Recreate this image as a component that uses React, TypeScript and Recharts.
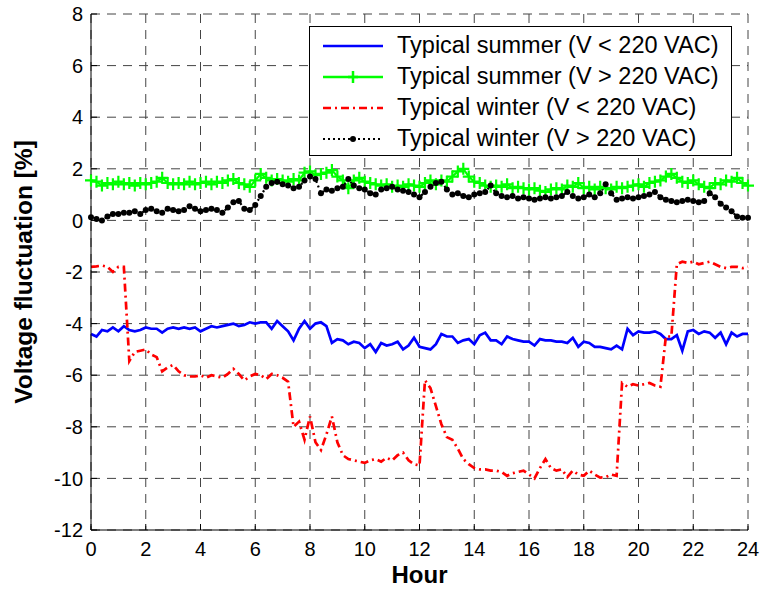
import { LineChart, Line, XAxis, YAxis, CartesianGrid, Legend } from 'recharts';

const FONT = '"Liberation Sans", Arial, Helvetica, sans-serif';

// hours of the day, one reading every 12 minutes
const hours = Array.from({ length: 121 }, (_, i) => i / 5);

const xTicks = [0, 2, 4, 6, 8, 10, 12, 14, 16, 18, 20, 22, 24];
const yTicks = [-12, -10, -8, -6, -4, -2, 0, 2, 4, 6, 8];

const seriesNames = [
  'Typical summer (V < 220 VAC)',
  'Typical summer (V > 220 VAC)',
  'Typical winter (V < 220 VAC)',
  'Typical winter (V > 220 VAC)',
];

const summerLow = [
  -4.4, -4.5, -4.25, -4.3, -4.15, -4.3, -4.1, -4.25, -4.3, -4.25,
  -4.15, -4.2, -4.2, -4.35, -4.2, -4.15, -4.2, -4.15, -4.2, -4.15,
  -4.3, -4.2, -4.1, -4.15, -4.1, -4.05, -4.0, -4.1, -4.05, -3.95,
  -4.0, -3.95, -3.95, -4.2, -3.9, -4.1, -4.3, -4.65, -4.2, -3.9,
  -4.2, -4.0, -3.95, -4.1, -4.75, -4.6, -4.65, -4.8, -4.7, -4.75,
  -4.95, -4.8, -5.1, -4.75, -4.85, -4.8, -4.7, -5.0, -4.85, -4.55,
  -4.9, -4.95, -5.0, -4.8, -4.4, -4.5, -4.5, -4.75, -4.65, -4.6,
  -4.8, -4.45, -4.35, -4.65, -4.65, -4.8, -4.5, -4.6, -4.65, -4.7,
  -4.7, -4.85, -4.6, -4.65, -4.65, -4.7, -4.7, -4.75, -4.55, -4.9,
  -4.7, -4.75, -4.9, -4.9, -4.95, -5.0, -4.85, -5.0, -4.2, -4.45,
  -4.3, -4.35, -4.35, -4.3, -4.4, -4.6, -4.6, -4.45, -5.05, -4.3,
  -4.25, -4.4, -4.3, -4.35, -4.55, -4.35, -4.8, -4.35, -4.5, -4.4,
  -4.4,
];

const summerHigh = [
  1.55, 1.5, 1.35, 1.45, 1.4, 1.5, 1.4, 1.45, 1.35, 1.45,
  1.4, 1.45, 1.5, 1.65, 1.45, 1.4, 1.45, 1.4, 1.5, 1.4,
  1.45, 1.5, 1.4, 1.5, 1.45, 1.55, 1.6, 1.45, 1.4, 1.3,
  1.55, 1.8, 1.65, 1.55, 1.6, 1.55, 1.5, 1.6, 1.55, 1.85,
  1.9, 1.75, 1.8, 1.85, 1.95, 1.7, 1.55, 1.25, 1.55, 1.65,
  1.5, 1.45, 1.4, 1.35, 1.4, 1.3, 1.35, 1.3, 1.4, 1.35,
  1.3, 1.45, 1.55, 1.4, 1.55, 1.5, 1.7, 1.9, 2.0, 1.7,
  1.5, 1.45, 1.35, 1.3, 1.35, 1.3, 1.4, 1.25, 1.3, 1.25,
  1.2, 1.25, 1.15, 1.1, 1.2, 1.25, 1.2, 1.35, 1.3, 1.45,
  1.25, 1.3, 1.2, 1.3, 1.25, 1.2, 1.3, 1.25, 1.3, 1.35,
  1.4, 1.3, 1.45, 1.5, 1.55, 1.7, 1.8, 1.65, 1.5, 1.45,
  1.55, 1.4, 1.3, 1.25, 1.45, 1.4, 1.55, 1.5, 1.65, 1.45,
  1.35,
];

const winterLow = [
  -1.8, -1.78, -1.75, -1.8, -2.0, -1.8, -1.8, -5.45, -5.1, -5.05,
  -5.0, -5.2, -5.3, -5.85, -5.7, -5.6, -5.85, -6.0, -6.05, -6.05,
  -6.0, -6.1, -6.0, -6.05, -6.1, -5.95, -5.75, -5.95, -6.2, -6.05,
  -5.95, -6.0, -6.15, -5.95, -6.0, -6.1, -6.25, -8.0, -7.8, -8.5,
  -7.6, -8.6, -8.9, -8.3, -7.6, -8.6, -9.1, -9.25, -9.3, -9.35,
  -9.4, -9.3, -9.25, -9.35, -9.2, -9.3, -9.1, -9.0, -9.3, -9.45,
  -9.5, -6.2, -6.5, -7.2, -7.9, -8.4, -8.5, -8.85, -9.25, -9.45,
  -9.6, -9.65, -9.65, -9.7, -9.7, -9.75, -9.9, -9.8, -9.75, -9.7,
  -9.85, -10.0, -9.6, -9.25, -9.6, -9.7, -9.65, -9.95, -9.7, -9.85,
  -9.9, -9.7, -9.85, -9.97, -9.95, -9.85, -9.9, -6.3, -6.45, -6.35,
  -6.4, -6.35, -6.3, -6.4, -6.45, -4.5, -4.5, -1.7, -1.6, -1.65,
  -1.6, -1.7, -1.65, -1.6, -1.7, -1.8, -1.85, -1.8, -1.8, -1.85,
  -1.8,
];

const winterHigh = [
  0.12, 0.05, 0.0, 0.15, 0.25, 0.25, 0.3, 0.3, 0.35, 0.25,
  0.4, 0.45, 0.35, 0.3, 0.45, 0.4, 0.35, 0.4, 0.55, 0.45,
  0.35, 0.4, 0.45, 0.4, 0.3, 0.5, 0.7, 0.75, 0.45, 0.4,
  0.6, 0.95, 1.3, 1.45, 1.5, 1.4, 1.35, 1.25, 1.3, 1.55,
  1.7, 1.6, 1.05, 1.2, 1.15, 1.25, 1.3, 1.6, 1.35, 1.25,
  1.2, 1.05, 1.0, 1.2, 1.25, 1.3, 1.2, 1.15, 1.1, 1.0,
  0.9, 1.1, 1.3, 1.45, 1.5, 1.2, 1.0, 1.05, 0.95, 0.9,
  1.0, 1.05, 1.1, 1.35, 1.05, 0.95, 0.9, 0.95, 0.85, 0.9,
  0.85, 0.8, 0.85, 0.9, 0.85, 0.9, 0.95, 1.1, 0.95, 0.85,
  0.9, 1.0, 0.9, 1.05, 1.4, 1.05, 0.8, 0.85, 0.9, 0.85,
  0.9, 0.95, 1.0, 1.1, 0.9, 0.8, 0.75, 0.7, 0.75, 0.8,
  0.75, 0.7, 0.75, 1.05, 0.9, 0.65, 0.5, 0.35, 0.15, 0.1,
  0.1,
];

const data = hours.map((hour, i) => ({
  hour,
  summerLow: summerLow[i],
  summerHigh: summerHigh[i],
  winterLow: winterLow[i],
  winterHigh: winterHigh[i],
}));

const TICK = 6;

const BottomTick = ({ x, y, payload }: any) => (
  <g>
    <line x1={x} x2={x} y1={y - 12} y2={y - 12 - TICK} stroke="#000" />
    <text x={x} y={y} dy="0.71em" textAnchor="middle" fontSize={20} fontFamily={FONT} fill="#000">
      {payload.value}
    </text>
  </g>
);

const LeftTick = ({ x, y, payload }: any) => (
  <g>
    <line x1={x + 8} x2={x + 8 + TICK} y1={y} y2={y} stroke="#000" />
    <text x={x} y={y} dy="0.355em" textAnchor="end" fontSize={20} fontFamily={FONT} fill="#000">
      {payload.value}
    </text>
  </g>
);

const TopTick = ({ x, y }: any) => <line x1={x} x2={x} y1={y} y2={y + TICK} stroke="#000" />;

const RightTick = ({ x, y }: any) => <line x1={x} x2={x - TICK} y1={y} y2={y} stroke="#000" />;

const Cross = ({ cx, cy, index }: any) => (
  <path
    key={`c${index}`}
    d={`M${cx - 6},${cy}h12M${cx},${cy - 6}v12`}
    stroke="#00ff00"
    strokeWidth={2.2}
    fill="none"
  />
);

const Sample = ({ i }: { i: number }) => (
  <svg width={60} height={16}>
    {i === 0 && <line x1={0} x2={60} y1={8} y2={8} stroke="#0000ff" strokeWidth={2.5} />}
    {i === 1 && (
      <g>
        <line x1={0} x2={60} y1={8} y2={8} stroke="#00ff00" strokeWidth={2.5} />
        <path d="M30,2v12M25,8h10" stroke="#00ff00" strokeWidth={2.5} />
      </g>
    )}
    {i === 2 && (
      <line x1={0} x2={60} y1={8} y2={8} stroke="#ff0000" strokeWidth={2.5} strokeDasharray="8 4 2 4" />
    )}
    {i === 3 && (
      <g>
        <line x1={0} x2={60} y1={8} y2={8} stroke="#000" strokeWidth={2} strokeDasharray="2 3" />
        <circle cx={30} cy={8} r={3} fill="#000" />
      </g>
    )}
  </svg>
);

const LegendBox = () => (
  <div
    style={{
      boxSizing: 'border-box',
      width: 423,
      height: 130,
      border: '1.5px solid #000',
      background: '#fff',
      padding: '3px 0 0 13px',
    }}
  >
    {seriesNames.map((name, i) => (
      <div key={name} style={{ display: 'flex', alignItems: 'center', height: 31 }}>
        <Sample i={i} />
        <span style={{ marginLeft: 14, fontSize: 23.5, fontFamily: FONT, color: '#000', whiteSpace: 'nowrap' }}>
          {name}
        </span>
      </div>
    ))}
  </div>
);

export default function App() {
  return (
    <div style={{ position: 'absolute', left: 0, top: 0, background: '#fff' }}>
      <LineChart width={760} height={590} data={data} margin={{ top: 14, right: 12, bottom: 0, left: 0 }}>
        <CartesianGrid stroke="#444" strokeDasharray="9 7" />
        <XAxis
          dataKey="hour"
          type="number"
          domain={[0, 24]}
          ticks={xTicks}
          height={60}
          tickSize={0}
          tickMargin={12}
          tick={<BottomTick />}
          axisLine={{ stroke: '#000' }}
          tickLine={false}
          label={{
            value: 'Hour',
            position: 'insideBottom',
            offset: 7,
            style: { fontSize: 24, fontWeight: 'bold', fontFamily: FONT, fill: '#000' },
          }}
        />
        <XAxis
          xAxisId="top"
          orientation="top"
          dataKey="hour"
          type="number"
          domain={[0, 24]}
          ticks={xTicks}
          height={0}
          tickSize={0}
          tickMargin={0}
          tick={<TopTick />}
          axisLine={{ stroke: '#000' }}
          tickLine={false}
        />
        <YAxis
          type="number"
          domain={[-12, 8]}
          ticks={yTicks}
          width={91}
          tickSize={0}
          tickMargin={8}
          tick={<LeftTick />}
          axisLine={{ stroke: '#000' }}
          tickLine={false}
          label={{
            value: 'Voltage fluctuation [%]',
            angle: -90,
            position: 'insideLeft',
            offset: 23,
            style: { textAnchor: 'middle', fontSize: 24.5, fontWeight: 'bold', fontFamily: FONT, fill: '#000' },
          }}
        />
        <YAxis
          yAxisId="right"
          orientation="right"
          type="number"
          domain={[-12, 8]}
          ticks={yTicks}
          width={0}
          tickSize={0}
          tickMargin={0}
          tick={<RightTick />}
          axisLine={{ stroke: '#000' }}
          tickLine={false}
        />
        <Legend
          layout="vertical"
          align="center"
          verticalAlign="middle"
          content={<LegendBox />}
          wrapperStyle={{ position: 'absolute', left: 309, top: 26, width: 423, height: 130 }}
        />
        <Line
          dataKey="summerLow"
          name={seriesNames[0]}
          stroke="#0000ff"
          strokeWidth={2.7}
          dot={false}
          isAnimationActive={false}
        />
        <Line
          dataKey="summerHigh"
          name={seriesNames[1]}
          stroke="#00ff00"
          strokeWidth={2.2}
          dot={<Cross />}
          isAnimationActive={false}
        />
        <Line
          dataKey="winterLow"
          name={seriesNames[2]}
          stroke="#ff0000"
          strokeWidth={2.7}
          strokeDasharray="8 4 2 4"
          dot={false}
          isAnimationActive={false}
        />
        <Line
          dataKey="winterHigh"
          name={seriesNames[3]}
          stroke="#000"
          strokeWidth={2.2}
          strokeDasharray="2 3"
          dot={{ r: 3, fill: '#000', stroke: 'none' }}
          isAnimationActive={false}
        />
      </LineChart>
    </div>
  );
}
